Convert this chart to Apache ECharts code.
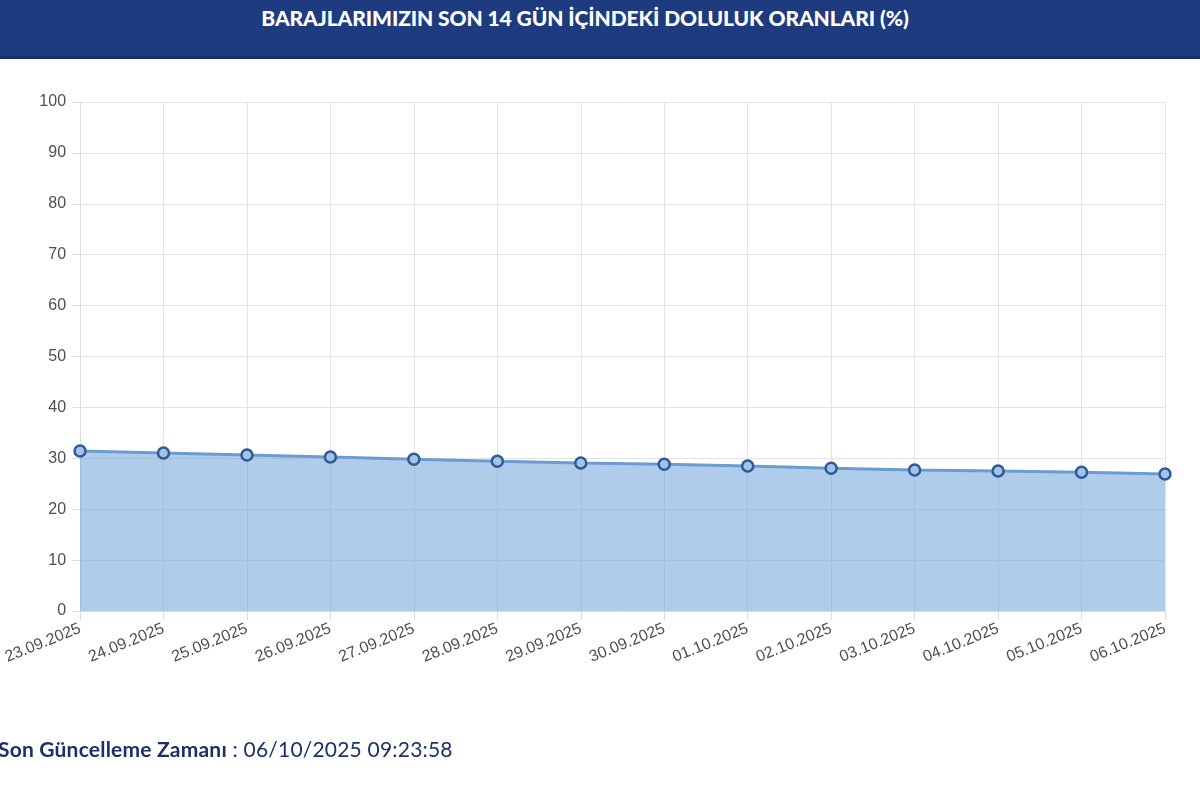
<!DOCTYPE html>
<html>
<head>
<meta charset="utf-8">
<script src="https://cdn.jsdelivr.net/npm/echarts@6/dist/echarts.min.js"></script>
<style>
  html, body { margin: 0; padding: 0; width: 1200px; height: 785px; background: #fff; overflow: hidden; }
  #header {
    position: absolute; left: 0; top: 0; width: 1200px; height: 56px;
    background: #1f3b7f; border-bottom: 3px solid #172f6a;
  }
  #title {
    position: absolute; left: 0; width: 1170px; top: 5px; text-align: center;
    color: #fff; font-family: Lato, sans-serif; font-weight: 900; font-size: 21px; letter-spacing: -0.1px;
  }
  #chart { position: absolute; left: 0; top: 0; width: 1200px; height: 785px; }
  #footer {
    position: absolute; left: -2px; top: 736px; color: #1c2f6b;
    font-family: Lato, sans-serif; font-size: 21px; letter-spacing: 0.2px;
  }
  #footer b { font-weight: 700; }
</style>
</head>
<body>
<div id="header"><div id="title">BARAJLARIMIZIN SON 14 GÜN İÇİNDEKİ DOLULUK ORANLARI (%)</div></div>
<div id="chart"></div>
<div id="footer"><b>Son Güncelleme Zamanı</b> : 06/10/2025 09:23:58</div>
<script>
const dates = ['23.09.2025', '24.09.2025', '25.09.2025', '26.09.2025', '27.09.2025', '28.09.2025', '29.09.2025',
    '30.09.2025', '01.10.2025', '02.10.2025', '03.10.2025', '04.10.2025', '05.10.2025', '06.10.2025'];
const fillRates = [31.43, 31.04, 30.65, 30.26, 29.80, 29.41, 29.08, 28.82, 28.49, 28.04, 27.70, 27.50, 27.25, 26.92];
const yMin = 0;
const yMax = 100;
const yStep = 10;

const chart = echarts.init(document.getElementById('chart'));
const option = {
    animation: false,
    grid: { left: 79, right: 35, top: 102, bottom: 174 },
    xAxis: {
        type: 'category',
        data: dates,
        boundaryGap: false,
        axisLine: { lineStyle: { color: '#dcdcdc' } },
        axisTick: { show: true, length: 9, lineStyle: { color: '#dcdcdc' } },
        splitLine: { show: true, lineStyle: { color: '#e3e3e3' } },
        axisLabel: {
            rotate: 22, margin: 17, interval: 0,
            color: '#4f4f4f', fontFamily: 'Liberation Sans, Arial', fontSize: 16
        }
    },
    yAxis: {
        type: 'value',
        min: yMin, max: yMax, interval: yStep,
        axisLine: { show: true, lineStyle: { color: '#dcdcdc' } },
        axisTick: { show: true, length: 8, lineStyle: { color: '#dcdcdc' } },
        splitLine: { lineStyle: { color: '#e3e3e3' } },
        axisLabel: { color: '#4f4f4f', fontFamily: 'Liberation Sans, Arial', fontSize: 16, margin: 14 }
    },
    series: [{
        type: 'line',
        data: fillRates,
        symbol: 'circle',
        symbolSize: 11,
        lineStyle: { color: '#6c9bd0', width: 3 },
        itemStyle: { color: '#a3c3e8', borderColor: '#2e5a98', borderWidth: 2.5 },
        areaStyle: { color: 'rgb(110,164,219)', opacity: 0.55 }
    }]
};
chart.setOption(option);
</script>
</body>
</html>
